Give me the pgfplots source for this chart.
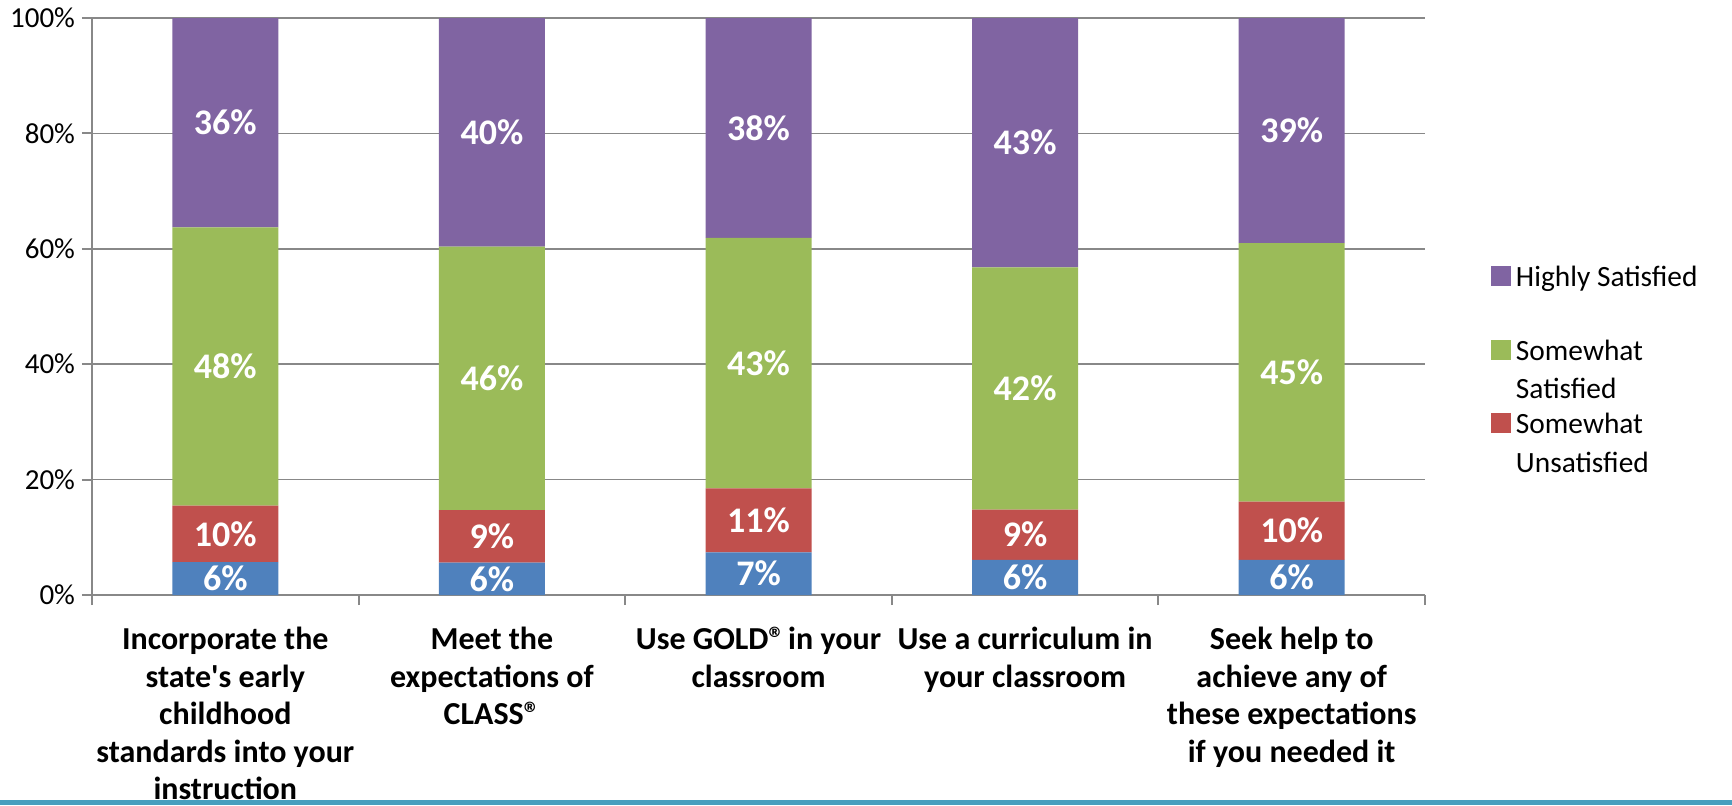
\documentclass[border=0pt]{standalone}
\usepackage{fontspec}
\setmainfont{Carlito}
\usepackage{pgfplots}
\pgfplotsset{compat=1.18}
\definecolor{cblue}{HTML}{4F81BD}
\definecolor{cred}{HTML}{C0504D}
\definecolor{cgreen}{HTML}{9BBB59}
\definecolor{cpurple}{HTML}{8064A2}
\definecolor{axgray}{HTML}{888888}
\definecolor{bline}{RGB}{72,158,190}
\pgfplotsset{sq/.style={legend image code/.code={\fill[##1,draw=none] (0pt,-11pt) rectangle (10pt,-1pt);}}}
\begin{document}
\begin{tikzpicture}
\fill[bline] (-46pt,-105pt) rectangle (820pt,-102.5pt);
\begin{axis}[
  scale only axis, width=666.5pt, height=288.5pt,
  ybar stacked, bar width=53pt,
  xmin=-0.5, xmax=4.5, ymin=0, ymax=100,
  axis x line*=bottom, axis y line*=left,
  axis line style={draw=axgray, line width=1pt},
  tick align=outside,
  major tick length=5pt,
  tick style={draw=axgray, line width=1pt},
  xtick={-0.5,0.5,1.5,2.5,3.5,4.5}, xticklabels={},
  extra x ticks={0,1,2,3,4},
  extra x tick labels={{Incorporate the\\state\textquotesingle s early\\childhood\\standards into your\\instruction},
    {Meet the\\expectations of\\CLASS®},
    {Use GOLD®\kern-0.12em\ in your\\classroom},
    {Use a curriculum in\\your classroom},
    {Seek help to\\achieve any of\\these expectations\\if you needed it}},
  extra x tick style={major tick length=0pt, grid=none},
  ytick={0,20,40,60,80,100},
  yticklabel={\pgfmathprintnumber{\tick}\%},
  ymajorgrids, grid style={draw=axgray, line width=0.8pt},
  /pgf/number format/assume math mode=true,
  yticklabel style={font=\fontsize{14.5}{17}\selectfont, text=black},
  xticklabel style={align=center, font=\bfseries\fontsize{16}{18.8}\selectfont, text=black, yshift=-12.5pt},
  reverse legend,
  legend cell align=left,
  legend style={draw=none, fill=none, inner sep=0pt, outer sep=0pt,
    at={(rel axis cs:1.0495,0.5737)}, anchor=north west,
    font=\fontsize{14.7}{19.3}\selectfont,
    cells={anchor=north west, align=left},
    nodes={inner sep=1pt},
    row sep=3.8pt, column sep=1.5pt},
]
\addplot[fill=cblue, draw=none, forget plot] coordinates {(0,5.7) (1,5.6) (2,7.4) (3,6.1) (4,6.1)};
\addplot[fill=cred, draw=none, sq] coordinates {(0,9.8) (1,9.1) (2,11.1) (3,8.7) (4,10.1)};
\addlegendentry{Somewhat\\Unsatisfied}
\addplot[fill=cgreen, draw=none, sq] coordinates {(0,48.2) (1,45.7) (2,43.4) (3,42.0) (4,44.8)};
\addlegendentry{Somewhat\\Satisfied}
\addplot[fill=cpurple, draw=none, sq] coordinates {(0,36.3) (1,39.6) (2,38.1) (3,43.2) (4,39.0)};
\addlegendentry{Highly Satisfied\\\strut}
\end{axis}
\begin{axis}[
  scale only axis, width=666.5pt, height=288.5pt,
  xmin=-0.5, xmax=4.5, ymin=0, ymax=100,
  hide axis,
  every axis plot/.append style={only marks, mark=*, mark size=0pt, mark options={draw=none,fill=none},
    nodes near coords, point meta=explicit symbolic,
    every node near coord/.append style={anchor=center, text=white, font=\bfseries\fontsize{18}{20}\selectfont}},
]
\addplot coordinates {(0,2.85)[6\%] (1,2.8)[6\%] (2,3.7)[7\%] (3,3.05)[6\%] (4,3.05)[6\%]};
\addplot coordinates {(0,10.6)[10\%] (1,10.15)[9\%] (2,12.95)[11\%] (3,10.45)[9\%] (4,11.15)[10\%]};
\addplot coordinates {(0,39.6)[48\%] (1,37.55)[46\%] (2,40.2)[43\%] (3,35.8)[42\%] (4,38.6)[45\%]};
\addplot coordinates {(0,81.85)[36\%] (1,80.2)[40\%] (2,80.95)[38\%] (3,78.4)[43\%] (4,80.5)[39\%]};
\end{axis}
\pgfresetboundingbox
\path[use as bounding box] (-46pt,-105pt) rectangle (820pt,297.5pt);
\end{tikzpicture}
\end{document}
